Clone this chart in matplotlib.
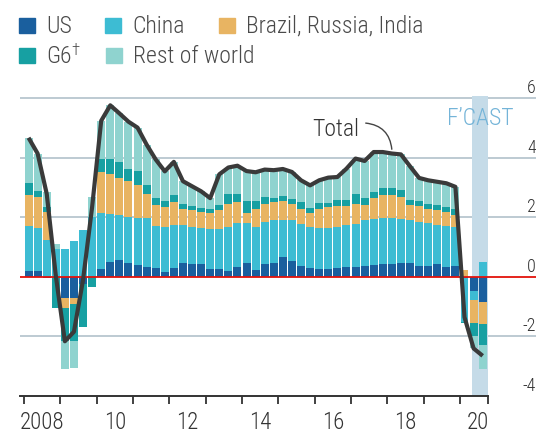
import numpy as np
import matplotlib
matplotlib.use("Agg")
import matplotlib.pyplot as plt
from matplotlib import font_manager
from matplotlib.patches import Rectangle

# pick a condensed face if one is around
_fonts = font_manager.fontManager.ttflist
_names = {f.name for f in _fonts}
FONT, SCALE = "Liberation Sans", 0.84
for fam in ["Liberation Sans Narrow", "Roboto Condensed", "Open Sans Condensed"]:
    if fam in _names:
        FONT, SCALE = fam, 1.0
        break
else:
    if any(f.name == "DejaVu Sans" and f.stretch == "condensed" for f in _fonts):
        FONT, SCALE = "DejaVu Sans", 0.9
        plt.rcParams["font.stretch"] = "condensed"
plt.rcParams["font.family"] = [FONT, "DejaVu Sans"]
plt.rcParams["font.weight"] = "light"

# quarterly contributions to world GDP growth, % points, 2008Q1 - 2020Q3
first_year = 2008
us = [0.21, 0.21, -0.05, 0.00, -0.69, -0.70, -0.25, 0.00,
      0.28, 0.50, 0.58, 0.47, 0.40, 0.35, 0.29, 0.16,
      0.29, 0.46, 0.43, 0.43, 0.27, 0.27, 0.20, 0.35,
      0.46, 0.24, 0.45, 0.47, 0.68, 0.55, 0.38, 0.30,
      0.26, 0.26, 0.30, 0.35, 0.33, 0.36, 0.40, 0.43,
      0.43, 0.48, 0.48, 0.37, 0.37, 0.43, 0.34, 0.37,
      -0.05, -0.48, -0.84]
china = [1.50, 1.42, 1.25, 0.95, 0.94, 1.21, 1.58, 2.00,
         1.87, 1.63, 1.49, 1.55, 1.57, 1.62, 1.41, 1.53,
         1.46, 1.29, 1.26, 1.22, 1.33, 1.33, 1.49, 1.45,
         1.34, 1.45, 1.40, 1.43, 1.25, 1.35, 1.39, 1.38,
         1.37, 1.40, 1.38, 1.40, 1.45, 1.54, 1.55, 1.54,
         1.54, 1.47, 1.42, 1.48, 1.43, 1.32, 1.38, 1.31,
         -1.45, -0.30, 0.50]
bri = [1.04, 1.07, 0.95, 0.00, -0.34, -0.20, 0.00, 0.00,
       1.38, 1.32, 1.27, 1.20, 1.13, 0.83, 0.72, 0.67,
       0.78, 0.55, 0.56, 0.55, 0.55, 0.65, 0.78, 0.73,
       0.34, 0.61, 0.59, 0.62, 0.63, 0.57, 0.53, 0.47,
       0.67, 0.69, 0.69, 0.65, 0.68, 0.52, 0.69, 0.78,
       0.78, 0.75, 0.52, 0.55, 0.50, 0.50, 0.48, 0.42,
       0.25, -0.75, -0.73]
g6 = [0.40, 0.20, 0.15, -1.05, -1.12, -1.25, -1.43, -0.35,
      0.43, 0.51, 0.53, 0.40, 0.45, 0.30, 0.25, 0.19,
      0.22, 0.17, 0.15, 0.13, 0.13, 0.17, 0.31, 0.26,
      0.41, 0.25, 0.25, 0.14, 0.16, 0.15, 0.22, 0.17,
      0.18, 0.15, 0.21, 0.20, 0.32, 0.22, 0.23, 0.25,
      0.23, 0.23, 0.18, 0.16, 0.17, 0.17, 0.16, 0.20,
      -0.05, -0.45, -0.73]
rest = [1.53, 1.25, 0.50, 0.15, -0.95, -0.90, 0.00, 0.70,
        1.29, 1.81, 1.63, 1.60, 1.47, 1.35, 1.28, 1.00,
        1.12, 0.75, 0.65, 0.55, 0.37, 1.03, 0.90, 0.95,
        1.01, 0.97, 0.92, 0.93, 0.91, 0.91, 0.73, 0.76,
        0.77, 0.84, 0.78, 1.04, 1.20, 1.26, 1.33, 1.20,
        1.17, 1.19, 1.12, 0.77, 0.78, 0.78, 0.79, 0.73,
        0.00, -0.42, -0.80]
total = [4.68, 4.15, 2.80, 0.05, -2.16, -1.84, -0.10, 2.35,
         5.25, 5.77, 5.50, 5.22, 5.02, 4.45, 3.95, 3.55,
         3.87, 3.22, 3.05, 2.88, 2.65, 3.45, 3.68, 3.74,
         3.56, 3.52, 3.61, 3.59, 3.63, 3.53, 3.25, 3.08,
         3.25, 3.34, 3.36, 3.64, 3.98, 3.90, 4.20, 4.20,
         4.15, 4.12, 3.72, 3.33, 3.25, 3.20, 3.15, 3.03,
         -1.35, -2.40, -2.65]

series = [("US", us, "#1a5f9e"),
          ("China", china, "#3dbcd3"),
          ("Brazil, Russia, India", bri, "#e8b462"),
          ("G6", g6, "#17a0a2"),
          ("Rest of world", rest, "#8fd3cf")]

year_labels = ["2008", "10", "12", "14", "16", "18", "20"]
forecast_span = (2020.33, 2020.78)

W, H = 536, 433
fig = plt.figure(figsize=(W / 100, H / 100), dpi=100)
ax = fig.add_axes([20 / W, 37 / H, 516 / W, 300.5 / H])

n = len(total)
x = first_year + (np.arange(n) + 0.5) / 4

pos = np.zeros(n)
neg = np.zeros(n)
for name, vals, col in series:
    v = np.array(vals)
    up = np.clip(v, 0, None)
    dn = np.clip(v, None, 0)
    ax.bar(x, up, width=0.22, bottom=pos, color=col, zorder=2, linewidth=0)
    ax.bar(x, dn, width=0.22, bottom=neg, color=col, zorder=2, linewidth=0)
    pos += up
    neg += dn

ax.plot(x, total, color="#3a3a3a", lw=3.0, zorder=5, solid_joinstyle="round",
        solid_capstyle="butt")

ax.axvspan(*forecast_span, color="#c5dbe8", zorder=1, lw=0)

for g in [6, 4, 2, -2]:
    ax.axhline(g, color="#b8c6cf", lw=1.3, zorder=0.5)
ax.axhline(0, color="#e3120b", lw=1.3, zorder=4)

ax.set_xlim(2007.89, 2022.093)
ax.set_ylim(-4, 6.1)

for s in ["top", "left", "right"]:
    ax.spines[s].set_visible(False)
ax.spines["bottom"].set_color("#333333")
ax.spines["bottom"].set_linewidth(1.4)
ax.spines["bottom"].set_bounds(2007.89, forecast_span[1])
ax.set_yticks([])

ax.set_xticks(list(range(2008, 2021)) + [forecast_span[1]])
ax.set_xticklabels([])
ax.tick_params(axis="x", which="major", length=6, width=1.3, color="#333333")
ax.set_xticks([int("20" + l[-2:]) + 0.5 for l in year_labels], minor=True)
ax.set_xticklabels(year_labels, minor=True, fontsize=16.5 * SCALE, color="#333333")
ax.tick_params(axis="x", which="minor", length=0, pad=11)

for v in [6, 4, 2, 0, -2, -4]:
    ax.text(1.0, v + 0.17, str(v), transform=ax.get_yaxis_transform(),
            ha="right", va="baseline", fontsize=13 * SCALE, color="#333333",
            zorder=6)

ax.text(2016.59, 4.97, "Total", ha="center", va="center",
        fontsize=17 * SCALE, color="#333333", zorder=6)
ax.annotate("", xy=(2018.13, 4.2), xytext=(2017.33, 5.18),
            arrowprops=dict(arrowstyle="-", color="#444444", lw=1.0,
                            connectionstyle="arc3,rad=-0.45"), zorder=6)
ax.text(2020.55, 5.34, "F\u2019CAST", ha="center", va="center",
        fontsize=17 * SCALE, color="#74b4d8", zorder=6)

# legend, laid out by hand
legend = [(19, 33, 0), (105, 33, 1), (219, 33, 2), (19, 63, 3), (106, 63, 4)]
for px, base, i in legend:
    name, _, col = series[i]
    fig.patches.append(Rectangle((px / W, 1 - base / H), 16 / W, 15 / H,
                                 transform=fig.transFigure, color=col))
    fig.text((px + 27) / W, 1 - base / H, name, ha="left", va="baseline",
             fontsize=17 * SCALE, color="#4a4a4a")
fig.text(71 / W, 1 - 55 / H, "\u2020", ha="left", va="baseline",
         fontsize=12 * SCALE, color="#4a4a4a")

fig.savefig("out.png", dpi=100)
